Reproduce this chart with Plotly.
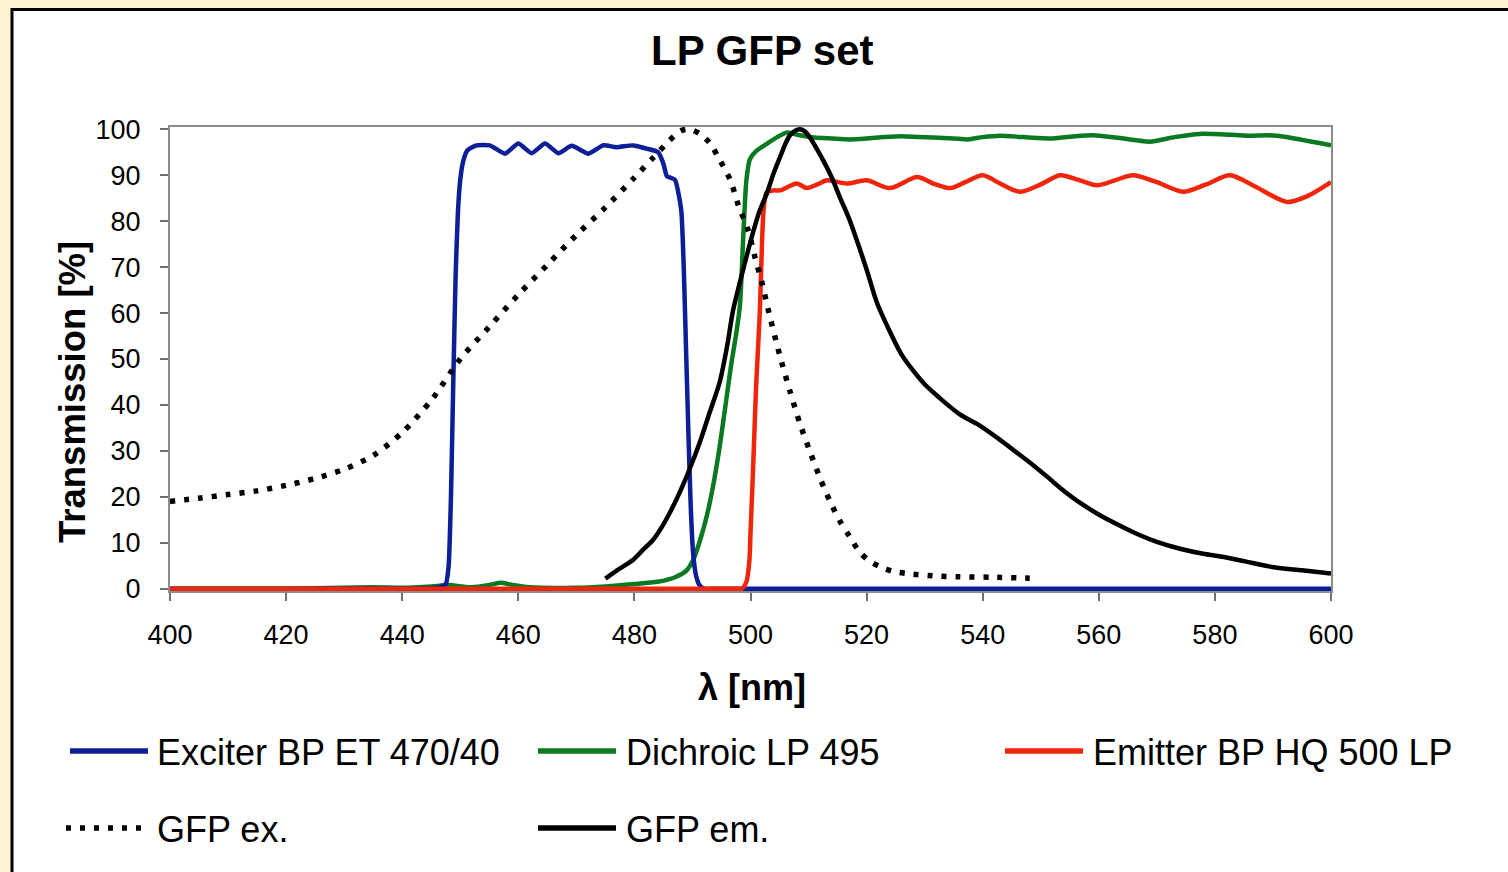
import plotly.graph_objects as go

# ---------------- data ----------------
exc_wl = [400, 420, 440, 446, 447.5, 448, 448.4, 448.8, 449.2, 449.6, 450.0, 450.5, 451.2, 452.8, 455.1,
          457.7, 460.0, 462.3, 464.6, 466.9, 469.2, 472.1, 474.6, 476.9, 479.8, 482.1, 484.1,
          485.0, 485.6, 487.0, 487.6, 488.1, 488.5, 488.9, 489.3, 489.7, 490.1, 490.6, 491.2, 492,
          494, 500, 520, 540, 560, 580, 600]
exc_T = [0, 0, 0, 0.2, 1, 5, 20, 45, 68, 82, 89, 93, 95.4, 96.5, 96.5,
         94.7, 96.9, 94.8, 96.9, 94.8, 96.4, 94.7, 96.5, 96.1, 96.5, 95.8, 95.0,
         92.5, 89.8, 89.0, 86, 82, 70, 52, 34, 18, 8, 3, 0.8, 0,
         0, 0, 0, 0, 0, 0, 0]

dic_wl = [400, 410, 420, 435, 440, 445, 448, 452, 455, 457, 459, 462, 470, 475, 480, 484, 487, 489,
          490.2, 491.3, 492.5, 493.5, 494.7, 495.7, 496.7, 497.6, 498.2, 498.8, 499.3, 499.9,
          501, 503, 504.6, 506.3, 508.5, 511, 514, 517, 520, 523, 526, 529, 531.5, 535, 537.5,
          540, 543, 547, 552, 556, 559, 563, 568.8, 573, 577.4, 583, 586, 589, 592, 595, 598, 600]
dic_T = [0, 0, 0, 0.3, 0.2, 0.5, 0.8, 0.3, 0.8, 1.3, 0.8, 0.3, 0.2, 0.5, 1.0, 1.5, 2.5, 4,
         6.5, 10.5, 16, 22, 31, 40, 49, 56, 62, 78, 89, 93.5,
         95.3, 97, 98.3, 99.3, 98.7, 98.2, 98, 97.8, 98, 98.3, 98.5, 98.3, 98.2, 98, 97.8,
         98.3, 98.6, 98.3, 98, 98.5, 98.7, 98.2, 97.3, 98.3, 99, 98.8, 98.6, 98.7, 98.4, 97.7, 97, 96.5]

emi_wl = [400, 420, 440, 460, 480, 490, 495, 497.5, 498.5, 499.3, 499.8, 500.0, 500.5, 501.0, 501.6,
          502.0, 502.3, 502.8, 504, 505.1,
          506.5, 508, 509.7, 511.5, 513.2, 516.6, 520, 524, 528.7, 531.5, 534.4, 537, 540, 543,
          546.4, 550, 553.3, 556.5, 559.7, 563, 565.9, 570, 574.5, 578.5, 582.6, 587, 592.4, 596, 600]
emi_T = [0, 0, 0, 0, 0, 0, 0, 0, 0, 1.5, 6, 12, 28, 45, 60,
         76, 83, 86.3, 86.7, 86.7,
         87.5, 88.2, 87.2, 88, 88.9, 88.2, 88.9, 87.2, 89.6, 88.2, 87.2, 88.5, 90, 88.2,
         86.4, 88, 90, 89, 87.8, 89, 90, 88.5, 86.4, 88, 90, 87.5, 84.2, 85.5, 88.5]

gex_wl = [400, 405, 410, 415, 420, 425, 430, 435, 440, 445, 450, 455, 460, 465, 470, 475, 480,
          483, 486, 488, 489.5, 491.3, 493, 494.4, 496.5, 497.9, 499.6, 500.8, 502, 503, 505,
          506.8, 508.5, 510.2, 512, 513.7, 515.5, 517, 518.5, 520.2, 522.3, 524.5, 527, 531.4,
          536, 541.8, 548.1]
gex_T = [19, 19.7, 20.5, 21.3, 22.5, 24, 26, 29, 34, 41, 50, 57, 64, 70.5, 77, 83, 89.5,
         93.5, 97.5, 99.7, 100, 99, 97, 94, 89, 83.5, 78, 72, 66.5, 61, 51,
         43, 36, 30, 24, 19, 14.5, 11.5, 8.5, 6.3, 4.8, 3.8, 3.3, 2.8,
         2.6, 2.5, 2.3]

gem_wl = [475, 477, 479.8, 481.5, 483.2, 485, 486.5, 488, 489.5, 491.3, 493, 494.7, 496, 497,
          498.7, 500.4, 501.5, 502.8, 504, 505.1, 506, 506.8, 507.7, 508.5, 509.3, 510.2, 511.3,
          512.5, 514, 515.4, 517, 518.3, 520, 521.8, 524, 526, 528, 530, 532.6, 536, 539.5, 543,
          546, 548, 551, 553.3, 557, 560.2, 564, 567, 570, 574, 578, 581, 585, 589.5, 595, 600]
gem_T = [2.2, 4, 6.3, 8.5, 10.6, 14, 17.5, 21.5, 26, 32, 38.5, 45, 53, 60.6,
         69.3, 77.4, 82, 86, 90.5, 94, 96.8, 98.7, 99.7, 100, 99.6, 98.3, 96,
         93.3, 89.5, 85.2, 80.5, 75.9, 69.5, 62.2, 56, 51, 47.5, 44.5, 41.5, 38, 35.5, 32.4,
         29.5, 27.6, 24.5, 22, 18.5, 16, 13.5, 11.7, 10.2, 8.7, 7.6, 7, 6, 4.8, 4, 3.3]

x_ticks = list(range(400, 601, 20))
y_ticks = list(range(0, 101, 10))

names = ["Exciter BP ET 470/40", "Dichroic LP 495", "Emitter BP HQ 500 LP", "GFP ex.", "GFP em."]
colors = ["#0c1e98", "#0a7a22", "#f0260c", "#000000", "#000000"]

# ---------------- layout helpers ----------------
W, H = 1508, 872
PL, PR, PT, PB = 170, 1331, 127, 591


def px(x):
    return (x - PL) / (PR - PL)


def py(y):
    return (PB - y) / (PB - PT)


LW = 4.5
fig = go.Figure()
fig.add_trace(go.Scatter(x=dic_wl, y=dic_T, mode="lines",
                         line=dict(color=colors[1], width=LW, shape="spline", smoothing=0.6),
                         cliponaxis=False, showlegend=False, name=names[1]))
fig.add_trace(go.Scatter(x=exc_wl, y=exc_T, mode="lines",
                         line=dict(color=colors[0], width=LW, shape="spline", smoothing=0.5),
                         cliponaxis=False, showlegend=False, name=names[0]))
fig.add_trace(go.Scatter(x=emi_wl, y=emi_T, mode="lines",
                         line=dict(color=colors[2], width=LW, shape="spline", smoothing=0.8),
                         cliponaxis=False, showlegend=False, name=names[2]))
fig.add_trace(go.Scatter(x=gex_wl, y=gex_T, mode="lines",
                         line=dict(color=colors[3], width=5.5, dash="5px,9px", shape="spline", smoothing=0.8),
                         cliponaxis=False, showlegend=False, name=names[3]))
fig.add_trace(go.Scatter(x=gem_wl, y=gem_T, mode="lines",
                         line=dict(color=colors[4], width=LW, shape="spline", smoothing=0.8),
                         cliponaxis=False, showlegend=False, name=names[4]))

FONT = "Liberation Sans, Arial, sans-serif"

shapes = [
    dict(type="rect", xref="paper", yref="paper", x0=px(12), x1=px(1540), y0=py(9.5), y1=py(900),
         fillcolor="white", line=dict(color="black", width=3), layer="below"),
]
annotations = [
    dict(text="<b>LP GFP set</b>", x=px(762), y=py(50), xref="paper", yref="paper",
         showarrow=False, font=dict(size=42, color="black", family=FONT), xanchor="center", yanchor="middle"),
    dict(text="<b>Transmission [%]</b>", x=px(72), y=py(392), xref="paper", yref="paper", textangle=-90,
         showarrow=False, font=dict(size=36.5, color="black", family=FONT), xanchor="center", yanchor="middle"),
    dict(text="<b>λ [nm]</b>", x=px(752), y=py(687), xref="paper", yref="paper",
         showarrow=False, font=dict(size=36, color="black", family=FONT), xanchor="center", yanchor="middle"),
]

# manual legend
leg = [
    (names[0], colors[0], "solid", 70, 148, 155, 752),
    (names[1], colors[1], "solid", 538, 616, 624, 752),
    (names[2], colors[2], "solid", 1005, 1083, 1091, 752),
    (names[3], colors[3], "5px,9px", 66, 142, 155, 829),
    (names[4], colors[4], "solid", 538, 616, 624, 829),
]
for name, col, dash, l0, l1, tx, ty in leg:
    shapes.append(dict(type="line", xref="paper", yref="paper", x0=px(l0), x1=px(l1),
                       y0=py(ty - 1), y1=py(ty - 1), line=dict(color=col, width=5.5, dash=dash)))
    annotations.append(dict(text=name, x=px(tx), y=py(ty), xref="paper", yref="paper", showarrow=False,
                            xanchor="left", yanchor="middle",
                            font=dict(size=36, color="black", family=FONT)))

fig.update_layout(
    width=W, height=H,
    margin=dict(l=PL, r=W - PR, t=PT, b=H - PB, pad=0),
    paper_bgcolor="#fef2d2",
    plot_bgcolor="white",
    showlegend=False,
    shapes=shapes,
    annotations=annotations,
    xaxis=dict(range=[400, 600], tickvals=x_ticks, ticktext=[str(v) for v in x_ticks],
               ticks="outside", ticklen=8, tickwidth=2, tickcolor="#707070",
               showline=True, mirror=True, linecolor="#8c8c8c", linewidth=2,
               showgrid=False, zeroline=False, layer="below traces",
               tickfont=dict(size=27, color="black", family=FONT), ticklabelstandoff=11),
    yaxis=dict(range=[-0.5, 100.5], tickvals=y_ticks, ticktext=[str(v) for v in y_ticks],
               ticks="outside", ticklen=8, tickwidth=2, tickcolor="#707070",
               showline=True, mirror=True, linecolor="#8c8c8c", linewidth=2,
               showgrid=False, zeroline=False, layer="below traces",
               tickfont=dict(size=27, color="black", family=FONT), ticklabelstandoff=14),
)

fig.write_html("out.html")
